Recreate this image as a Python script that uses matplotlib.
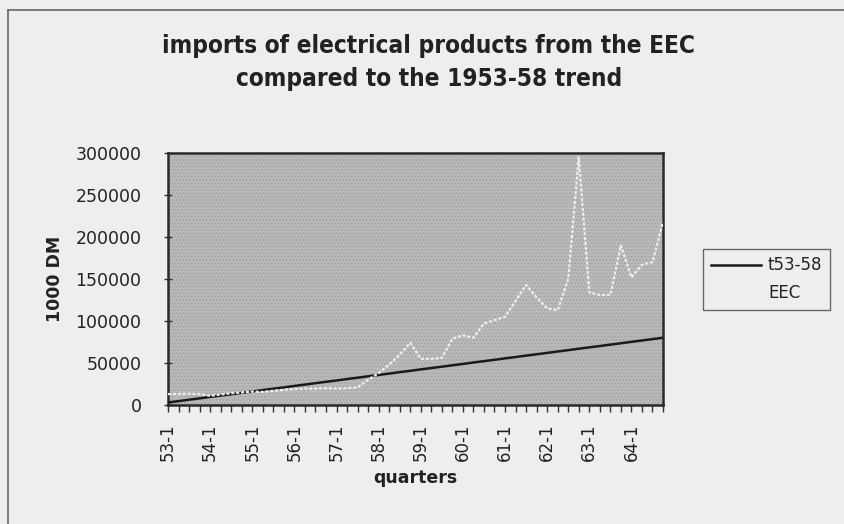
import matplotlib
matplotlib.use("Agg")
import matplotlib.pyplot as plt
from matplotlib.patches import Rectangle
from matplotlib.lines import Line2D

# quarters 53-1 .. 64-4
years = list(range(53, 65))
quarters = [f"{y}-{q}" for y in years for q in range(1, 5)]

# linear trend 1953-58
t53_58 = [3000, 4600, 6300, 7900, 9600, 11200, 12800, 14500,
          16100, 17800, 19400, 21000, 22700, 24300, 26000, 27600,
          29200, 30900, 32500, 34200, 35800, 37400, 39100, 40700,
          42400, 44000, 45600, 47300, 48900, 50600, 52200, 53800,
          55500, 57100, 58800, 60400, 62000, 63700, 65300, 67000,
          68600, 70200, 71900, 73500, 75200, 76800, 78400, 80100]

# imports from the EEC, 1000 DM
eec = [13000, 13000, 13500, 13000, 11000, 12500, 14000, 15000,
       16000, 15500, 17000, 18000, 19000, 19500, 19500, 20000,
       19500, 20000, 21000, 30000, 38000, 48000, 60000, 74000,
       55000, 55000, 56000, 79000, 83000, 80000, 97000, 101000,
       105000, 124000, 143000, 128000, 115000, 113000, 150000, 295000,
       134000, 131000, 131000, 190000, 152000, 167000, 170000, 218000]

yticks = [0, 50000, 100000, 150000, 200000, 250000, 300000]

bg = "#eeeeee"
txt = "#222222"

fig = plt.figure(figsize=(8.44, 5.24), dpi=100, facecolor=bg)

# outer chart frame: only its left and top edges are in view
fx, fy = 8 / 844, 1 - 10 / 524
fig.lines.append(Line2D([fx, fx], [0, fy], transform=fig.transFigure,
                        color="#666666", linewidth=1.2))
fig.lines.append(Line2D([fx, 1], [fy, fy], transform=fig.transFigure,
                        color="#666666", linewidth=1.2))

ax = fig.add_axes([168 / 844, 1 - 405 / 524, (663 - 168) / 844, (405 - 153) / 524])
ax.set_facecolor("#bbbbbb")
ax.add_patch(Rectangle((0, 0), 1, 1, transform=ax.transAxes, facecolor="none",
                       hatch=".....", edgecolor="#a4a4a4", linewidth=0, zorder=0))

x = list(range(len(quarters)))
ax.plot(x, t53_58, color="#1a1a1a", linewidth=1.8, label="t53-58", zorder=3)
ax.plot(x, eec, color="#eeeeee", linewidth=1.6, linestyle=(0, (1.4, 0.8)),
        label="EEC", zorder=4)

ax.set_xlim(0, len(quarters) - 1)
ax.set_ylim(0, 300000)
ax.set_xticks(x)
ax.set_xticklabels([q if q.endswith("-1") else "" for q in quarters],
                   rotation=90, fontsize=12, color=txt)
ax.set_yticks(yticks)
ax.set_yticklabels([str(v) for v in yticks], fontsize=12.5, color=txt)
ax.tick_params(axis="x", direction="out", length=5, width=1, color="#333333", pad=8)
ax.tick_params(axis="y", direction="inout", length=6, width=1, color="#333333", pad=16)
for s in ax.spines.values():
    s.set_color("#2a2a2a")
    s.set_linewidth(1.8)

ax.set_xlabel("quarters", fontsize=12.5, fontweight="bold", color=txt, labelpad=6)
ax.set_ylabel("1000 DM", fontsize=12.5, fontweight="bold", color=txt, labelpad=8)

fig.text(0.508, 1 - 46 / 524, "imports of electrical products from the EEC",
         ha="center", va="center", fontsize=17.5, fontweight="bold",
         fontstretch="condensed", color=txt)
fig.text(0.508, 1 - 79 / 524, "compared to the 1953-58 trend",
         ha="center", va="center", fontsize=17.5, fontweight="bold",
         fontstretch="condensed", color=txt)

leg = ax.legend(loc="upper left", bbox_to_anchor=(703 / 844, 1 - 249 / 524),
                bbox_transform=fig.transFigure, frameon=True, fancybox=False,
                fontsize=12, handlelength=3.0, handletextpad=0.45,
                borderpad=0.45, borderaxespad=0, labelspacing=0.6)
leg.get_frame().set_facecolor(bg)
leg.get_frame().set_edgecolor("#444444")
leg.get_frame().set_linewidth(1)
for t in leg.get_texts():
    t.set_color(txt)

fig.savefig("out.png", dpi=100, facecolor=bg)
